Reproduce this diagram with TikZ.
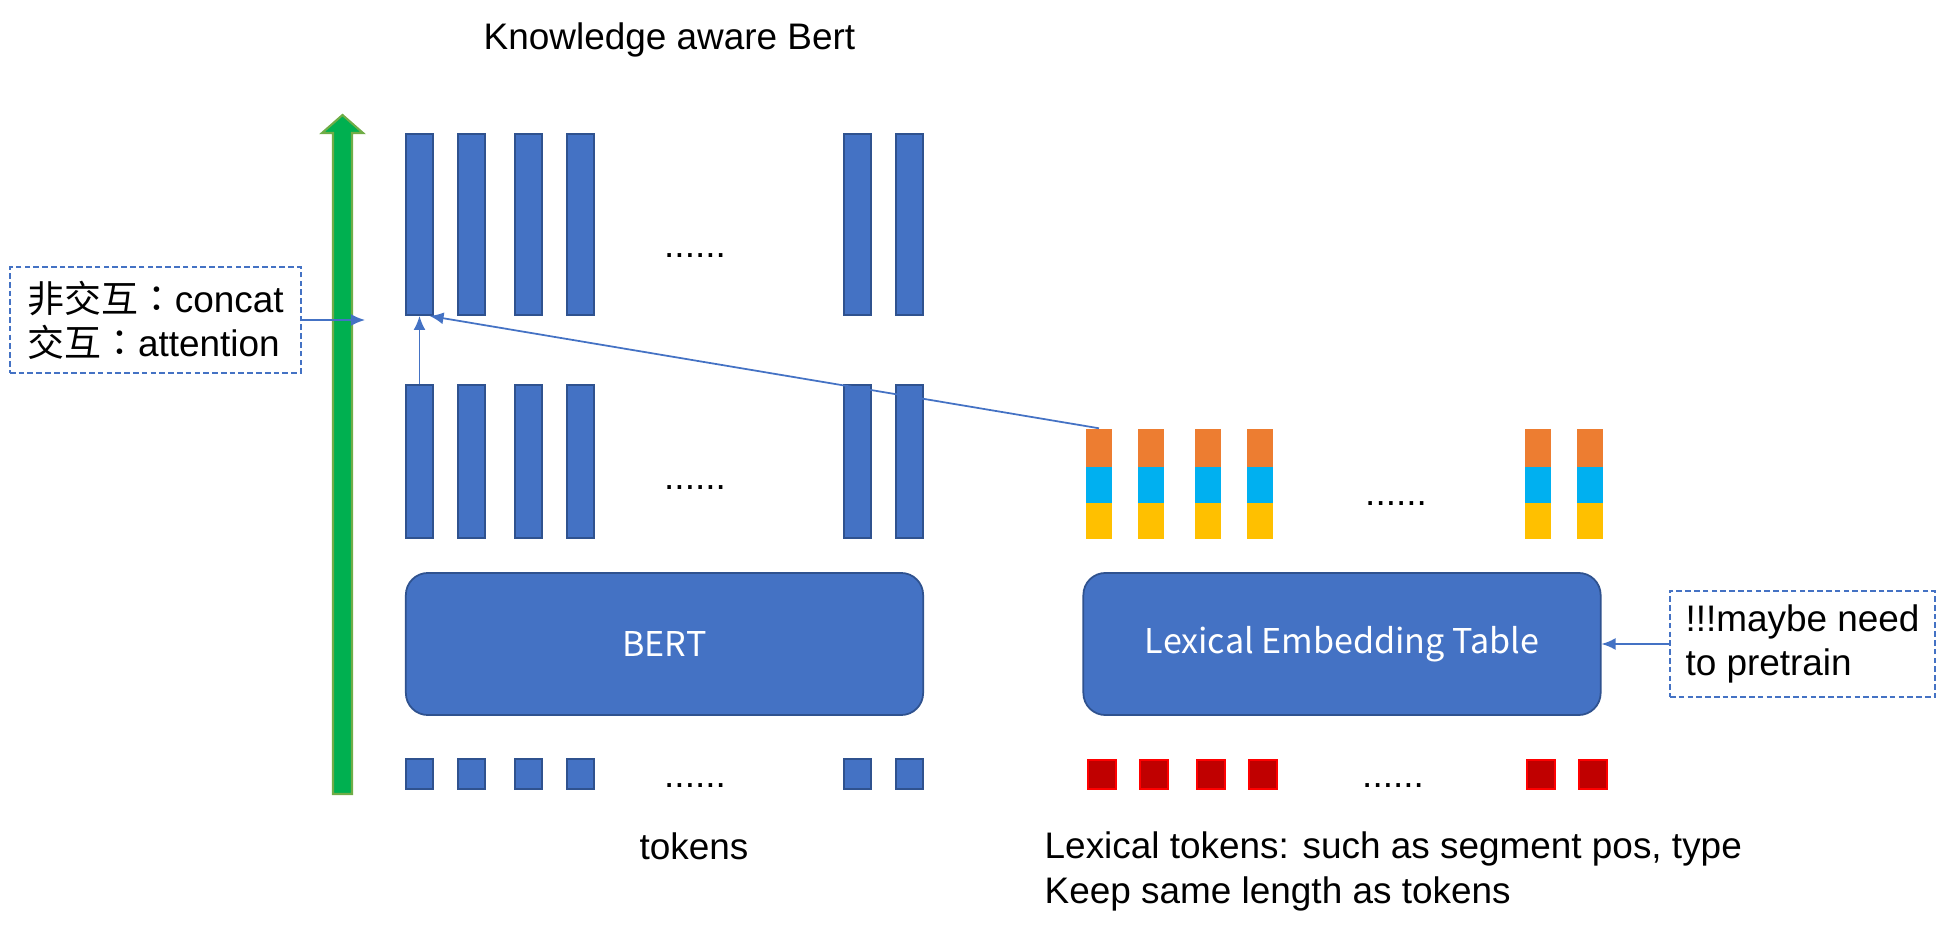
\documentclass[tikz,border=0pt]{standalone}
\usepackage{fontspec}
\setmainfont{Liberation Sans}
\newfontfamily\cjk{Noto Sans CJK TC}
\newfontfamily\blockfont{Noto Sans CJK SC}
\usetikzlibrary{arrows.meta}
\definecolor{bertblue}{HTML}{4472C4}
\definecolor{bertedge}{HTML}{2F528F}
\definecolor{lexorange}{HTML}{ED7D31}
\definecolor{lexcyan}{HTML}{00B0F0}
\definecolor{lexyellow}{HTML}{FFC000}
\definecolor{lexred}{HTML}{C00000}
\definecolor{flowgreen}{HTML}{00B050}
\definecolor{flowedge}{HTML}{70AD47}
\begin{document}
\begin{tikzpicture}[x=0.01cm, y=-0.01cm, >={Latex[length=4pt,width=3.4pt]},
	font=\fontsize{10.5}{12.6}\selectfont,
	bar/.style={draw=bertedge, line width=0.5pt, fill=bertblue, inner sep=0, minimum width=0.27cm},
	seg/.style={inner sep=0, minimum width=0.26cm, minimum height=0.36cm},
	block/.style={draw=bertedge, line width=0.5pt, fill=bertblue, rounded corners=0.22cm,
		minimum width=5.17cm, minimum height=1.42cm, text=white, font=\blockfont\fontsize{9.7}{12}\selectfont},
	note/.style={draw=bertblue, dash pattern=on 1.6pt off 0.9pt, line width=0.6pt,
		minimum height=1.06cm, inner sep=0, align=left},
	link/.style={draw=bertblue, line width=0.5pt, ->}]
	\useasboundingbox (0,0) rectangle (1945,937);
	\filldraw[fill=flowgreen, draw=flowedge, line width=0.6pt]
		(333,794) -- (333,133) -- (322,133) -- (342.5,115) -- (363,133) -- (352,133) -- (352,794) -- cycle;
	\foreach \x [count=\i] in {419.5,471.5,528.5,580.5,857.5,909.5} {
		\node[bar, minimum height=1.81cm] (t\i) at (\x,224.5) {};
		\node[bar, minimum height=1.53cm] (m\i) at (\x,461.5) {};
		\node[bar, minimum height=0.3cm] (b\i) at (\x,774) {};
	}
	\foreach \x [count=\i] in {1099,1151,1208,1260,1538,1590} {
		\node[seg, fill=lexorange, minimum height=0.38cm] (o\i) at (\x,448) {};
		\node[seg, fill=lexcyan] (c\i) at (\x,485) {};
		\node[seg, fill=lexyellow] (y\i) at (\x,521) {};
		\node[inner sep=0, minimum width=0.28cm, minimum height=0.29cm, draw=red, line width=0.5pt, fill=lexred]
			(r\i) at (\x+3,774.5) {};
	}
	\node[block] (bert) at (664.5,644) {BERT};
	\node[block] (lex) at (1342,644) {Lexical Embedding Table};
	\node[anchor=base] (dt) at (695,258) {......};
	\node[anchor=base] (dm) at (695,490) {......};
	\node[anchor=base] (db) at (695,787) {......};
	\node[anchor=base] (ldm) at (1396,506) {......};
	\node[anchor=base] (ldb) at (1393,787) {......};
	\node[anchor=base] (title) at (669.5,50) {Knowledge aware Bert};
	\node[anchor=base] (tok) at (694,859) {tokens};
	\node[anchor=base west, align=left, inner sep=0] (lextok) at (1044,903)
		{Lexical tokens: such as segment pos, type\\Keep same length as tokens};
	\node[note, minimum width=2.91cm] (mix) at (155.5,320) {{\cjk 非交互：}concat\\{\cjk 交互：}attention};
	\node[note, minimum width=2.65cm] (pre) at (1802.5,644) {!!!maybe need\\to pretrain};
	\coordinate (mixend) at (365,320);
	\draw[link] (mix.east) -- (mixend);
	\draw[link] (m1.north) -- (t1.south);
	\draw[link] (o1.north) -- ([xshift=0.1cm]t1.south);
	\draw[link] (pre.west) -- (lex.east);
\end{tikzpicture}
\end{document}
